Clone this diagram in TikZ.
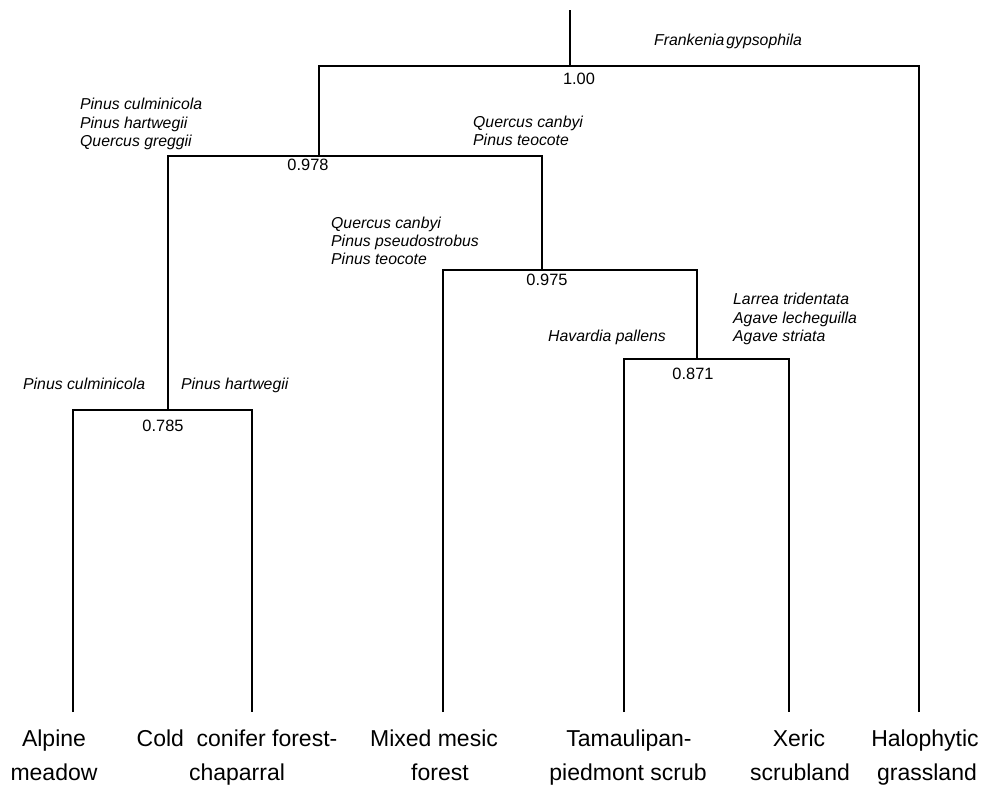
\documentclass[tikz,border=0pt]{standalone}
\usepackage{fontspec}
\setmainfont{Liberation Sans}
\begin{document}
\begin{tikzpicture}[x=1pt,y=-1pt,
  branch/.style={line width=1.15pt, black},
  sp/.style={inner sep=0pt, anchor=base west, font=\fontsize{15.8}{18.5}\selectfont\itshape},
  val/.style={inner sep=0pt, anchor=base, font=\fontsize{16.4}{19}\selectfont},
  hab/.style={inner sep=0pt, anchor=base, font=\fontsize{23}{27}\selectfont}]
\useasboundingbox (0,0) rectangle (1003,785);
% junction coordinates
\coordinate (top) at (570,10);
\coordinate (r) at (570,66);
\coordinate (rL) at (319,66);
\coordinate (rR) at (919,66);
\coordinate (j978) at (319,156);
\coordinate (j978L) at (168,156);
\coordinate (j978R) at (542,156);
\coordinate (j785) at (168,410);
\coordinate (j785L) at (73,410);
\coordinate (j785R) at (252,410);
\coordinate (j975) at (542,270);
\coordinate (j975L) at (443,270);
\coordinate (j975R) at (697,270);
\coordinate (j871) at (697,359);
\coordinate (j871L) at (624,359);
\coordinate (j871R) at (789,359);
% leaf ends
\coordinate (la) at (73,712);
\coordinate (lc) at (252,712);
\coordinate (lm) at (443,712);
\coordinate (lt) at (624,712);
\coordinate (lx) at (789,712);
\coordinate (lh) at (919,712);
% branches
\draw[branch] (top) -- (r);
\draw[branch] (lh) -- (rR) -- (rL) -- (j978);
\draw[branch] (j785) -- (j978L) -- (j978R) -- (j975);
\draw[branch] (la) -- (j785L) -- (j785R) -- (lc);
\draw[branch] (lm) -- (j975L) -- (j975R) -- (j871);
\draw[branch] (lt) -- (j871L) -- (j871R) -- (lx);
% values
\node[val] (v100) at (579,84) {1.00};
\node[val] (v978) at (308,170) {0.978};
\node[val] (v975) at (547,285) {0.975};
\node[val] (v871) at (693,379) {0.871};
\node[val] (v785) at (163,431) {0.785};
% species
\node[sp] (fg) at (654,45) {Frankenia\hspace{0.12em}gypsophila};
\node[sp] (s1a) at (80,109) {Pinus culminicola};
\node[sp] (s1b) at (80,128) {Pinus hartwegii};
\node[sp] (s1c) at (80,146) {Quercus greggii};
\node[sp] (s2a) at (473,127) {Quercus canbyi};
\node[sp] (s2b) at (473,145) {Pinus teocote};
\node[sp] (s3a) at (331,228) {Quercus canbyi};
\node[sp] (s3b) at (331,246) {Pinus pseudostrobus};
\node[sp] (s3c) at (331,264) {Pinus teocote};
\node[sp] (s4a) at (733,304) {Larrea tridentata};
\node[sp] (s4b) at (733,323) {Agave lecheguilla};
\node[sp] (s4c) at (733,341) {Agave striata};
\node[sp] (s5) at (548,341) {Havardia pallens};
\node[sp] (s6a) at (23,389) {Pinus culminicola};
\node[sp] (s6b) at (181,389) {Pinus hartwegii};
% habitats
\node[hab] (h1a) at (54,746) {Alpine};
\node[hab] (h1b) at (54,780) {meadow};
\node[hab] (h2a) at (237,746) {Cold\ \ conifer forest-};
\node[hab] (h2b) at (237,780) {chaparral};
\node[hab] (h3a) at (434,746) {Mixed mesic};
\node[hab] (h3b) at (440,780) {forest};
\node[hab] (h4a) at (629,746) {Tamaulipan-};
\node[hab] (h4b) at (628,780) {piedmont scrub};
\node[hab] (h5a) at (799,746) {Xeric};
\node[hab] (h5b) at (800,780) {scrubland};
\node[hab] (h6a) at (925,746) {Halophytic};
\node[hab] (h6b) at (927,780) {grassland};
\end{tikzpicture}
\end{document}
